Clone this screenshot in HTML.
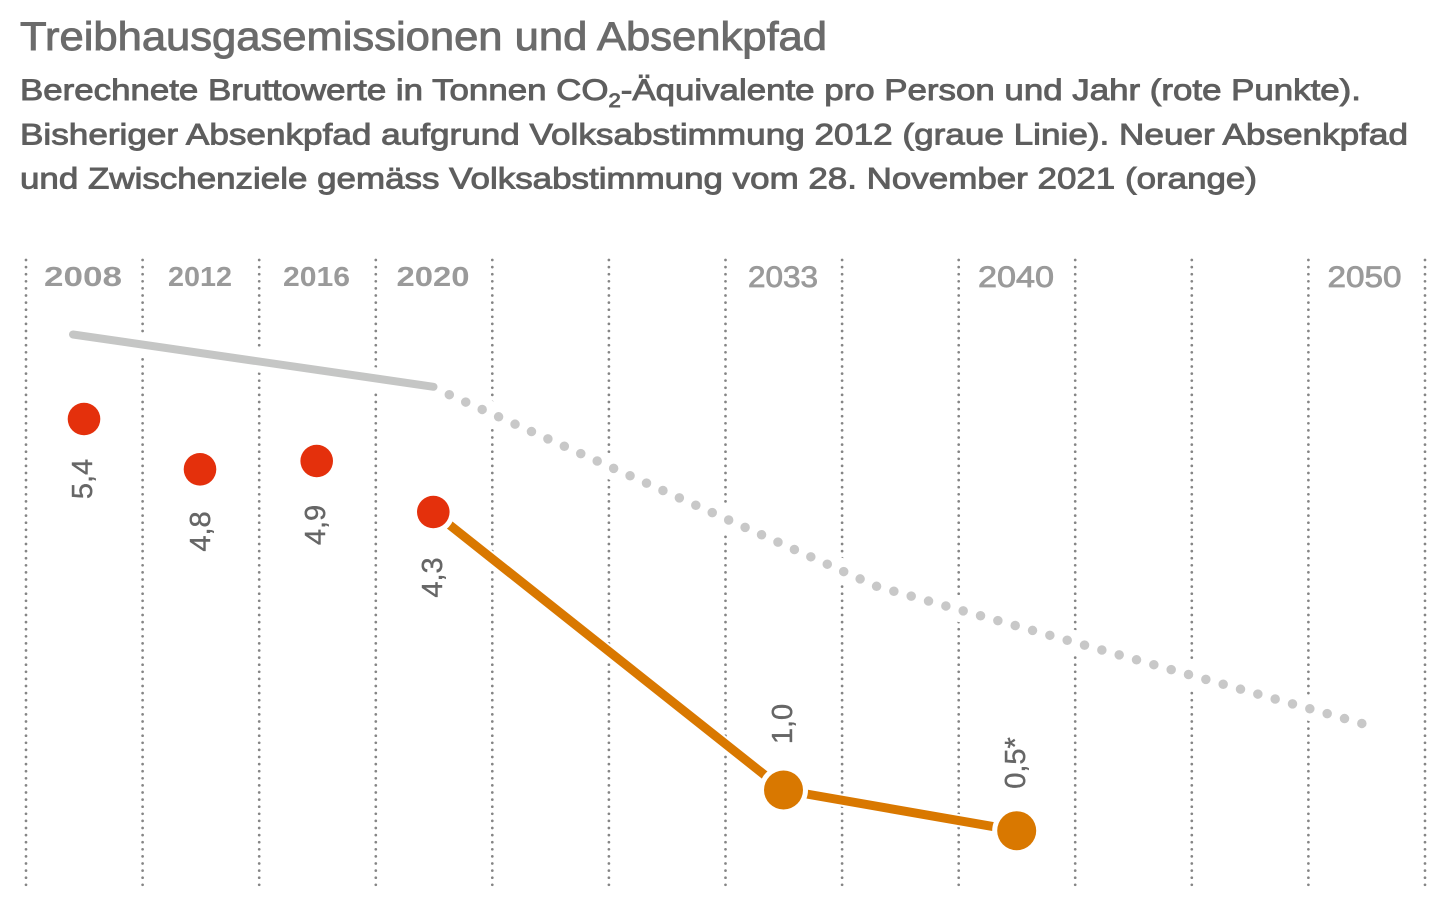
<!DOCTYPE html>
<html>
<head>
<meta charset="utf-8">
<style>
  html, body { margin: 0; padding: 0; background: #ffffff; }
  svg { display: block; }
  text { font-family: "Liberation Sans", "DejaVu Sans", sans-serif; }
</style>
</head>
<body>
<svg width="1445" height="914" viewBox="0 0 1445 914" xmlns="http://www.w3.org/2000/svg">
  <rect x="0" y="0" width="1445" height="914" fill="#ffffff"/>

  <!-- Title & subtitle -->
  <text x="20" y="50" font-size="40" fill="#6b6b6b" stroke="#6b6b6b" stroke-width="0.9" textLength="807" lengthAdjust="spacingAndGlyphs">Treibhausgasemissionen und Absenkpfad</text>
  <text x="20" y="100" font-size="30" fill="#5e5e5e" stroke="#5e5e5e" stroke-width="0.9" textLength="1341" lengthAdjust="spacingAndGlyphs">Berechnete Bruttowerte in Tonnen CO<tspan font-size="19" dy="7">2</tspan><tspan dy="-7">-Äquivalente pro Person und Jahr (rote Punkte).</tspan></text>
  <text x="20" y="144.5" font-size="30" fill="#5e5e5e" stroke="#5e5e5e" stroke-width="0.9" textLength="1388" lengthAdjust="spacingAndGlyphs">Bisheriger Absenkpfad aufgrund Volksabstimmung 2012 (graue Linie). Neuer Absenkpfad</text>
  <text x="20" y="188.5" font-size="30" fill="#5e5e5e" stroke="#5e5e5e" stroke-width="0.9" textLength="1237" lengthAdjust="spacingAndGlyphs">und Zwischenziele gemäss Volksabstimmung vom 28. November 2021 (orange)</text>

  <!-- Vertical dotted grid lines -->
  <g stroke="#858585" stroke-width="2.7" stroke-linecap="round" stroke-dasharray="0 7.1" fill="none">
    <line x1="26" y1="260" x2="26" y2="885.5"/>
    <line x1="142.6" y1="260" x2="142.6" y2="885.5"/>
    <line x1="259.2" y1="260" x2="259.2" y2="885.5"/>
    <line x1="375.8" y1="260" x2="375.8" y2="885.5"/>
    <line x1="492.3" y1="260" x2="492.3" y2="885.5"/>
    <line x1="608.9" y1="260" x2="608.9" y2="885.5"/>
    <line x1="725.5" y1="260" x2="725.5" y2="885.5"/>
    <line x1="842.1" y1="260" x2="842.1" y2="885.5"/>
    <line x1="958.7" y1="260" x2="958.7" y2="885.5"/>
    <line x1="1075.2" y1="260" x2="1075.2" y2="885.5"/>
    <line x1="1191.8" y1="260" x2="1191.8" y2="885.5"/>
    <line x1="1308.4" y1="260" x2="1308.4" y2="885.5"/>
    <line x1="1425" y1="260" x2="1425" y2="885.5"/>
  </g>

  <!-- Year labels -->
  <g fill="#9a9a9a" font-size="28" text-anchor="middle">
    <text x="83" y="286" font-weight="bold" textLength="78" lengthAdjust="spacingAndGlyphs">2008</text>
    <text x="200" y="286" font-weight="bold" textLength="64" lengthAdjust="spacingAndGlyphs">2012</text>
    <text x="316.5" y="286" font-weight="bold" textLength="67" lengthAdjust="spacingAndGlyphs">2016</text>
    <text x="433" y="286" font-weight="bold" textLength="73" lengthAdjust="spacingAndGlyphs">2020</text>
    <text x="783" y="287" font-size="30" stroke="#9a9a9a" stroke-width="0.8" textLength="70" lengthAdjust="spacingAndGlyphs">2033</text>
    <text x="1016" y="287" font-size="30" stroke="#9a9a9a" stroke-width="0.8" textLength="76" lengthAdjust="spacingAndGlyphs">2040</text>
    <text x="1364.5" y="287" font-size="30" stroke="#9a9a9a" stroke-width="0.8" textLength="74" lengthAdjust="spacingAndGlyphs">2050</text>
  </g>

  <!-- Gray path halos -->
  <g fill="none" stroke="#ffffff" stroke-linecap="round" stroke-linejoin="round">
    <path d="M73,334.5 L433.5,386.8" stroke-width="22"/>
    <path d="M433.5,386.8 L449.3,394.7 L877,586.5 L1362,723.5" stroke-width="24"/>
  </g>
  <!-- Gray solid path -->
  <path d="M73,334.5 L433.5,386.8" fill="none" stroke="#c5c6c5" stroke-width="8" stroke-linecap="round"/>
  <!-- Gray dotted path -->
  <path d="M449.3,394.7 L877,586.5 L1362,723.5" fill="none" stroke="#c8c8c8" stroke-width="9.5" stroke-linecap="round" stroke-dasharray="0 18.01"/>

  <!-- Orange path -->
  <path d="M433.3,512 L783.5,790 L1016.7,830.7" fill="none" stroke="#ffffff" stroke-width="13" stroke-linejoin="round"/>
  <path d="M433.3,512 L783.5,790 L1016.7,830.7" fill="none" stroke="#d97800" stroke-width="9" stroke-linejoin="round"/>

  <!-- Red dots -->
  <g>
    <circle cx="84" cy="419" r="21" fill="#ffffff"/>
    <circle cx="84" cy="419" r="16.3" fill="#e4300c"/>
    <circle cx="200" cy="469.3" r="21" fill="#ffffff"/>
    <circle cx="200" cy="469.3" r="16.3" fill="#e4300c"/>
    <circle cx="316.7" cy="461" r="21" fill="#ffffff"/>
    <circle cx="316.7" cy="461" r="16.3" fill="#e4300c"/>
    <circle cx="433.3" cy="512" r="21.5" fill="#ffffff"/>
    <circle cx="433.3" cy="512" r="16.3" fill="#e4300c"/>
  </g>

  <!-- Orange dots -->
  <circle cx="783.5" cy="790" r="24.5" fill="#ffffff"/>
  <circle cx="783.5" cy="790" r="19.5" fill="#d97800"/>
  <circle cx="1016.7" cy="830.7" r="24.5" fill="#ffffff"/>
  <circle cx="1016.7" cy="830.7" r="19.5" fill="#d97800"/>

  <!-- Value labels (rotated) -->
  <g fill="#666666" stroke="#666666" stroke-width="0.4" font-size="29" text-anchor="middle">
    <text transform="translate(92,479) rotate(-90)">5,4</text>
    <text transform="translate(210,531.5) rotate(-90)">4,8</text>
    <text transform="translate(325,525) rotate(-90)">4,9</text>
    <text transform="translate(442,577.5) rotate(-90)">4,3</text>
    <text transform="translate(792,724) rotate(-90)">1,0</text>
    <text transform="translate(1025,763) rotate(-90)">0,5*</text>
  </g>
</svg>
</body>
</html>
